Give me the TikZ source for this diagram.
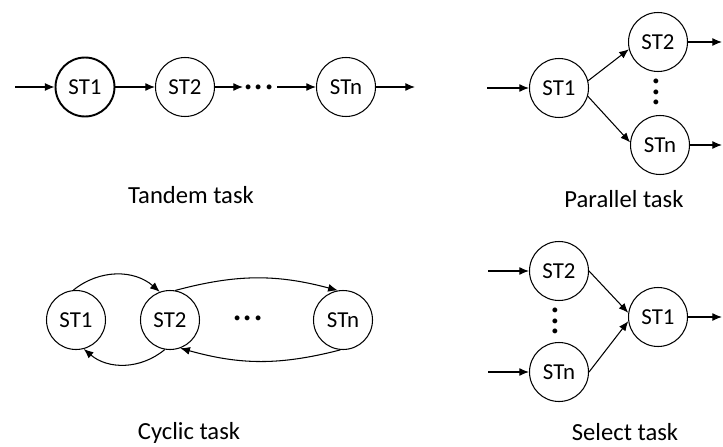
\documentclass[tikz,border=0pt]{standalone}
\usepackage{amsmath}
\usepackage{fontspec}
\setmainfont{Carlito}
\usetikzlibrary{arrows.meta, positioning}

\begin{document}
\begin{tikzpicture}[x=0.02cm, y=-0.02cm]
    % Setup the style for the states
        \tikzset{node style/.style={circle, draw,
                                    minimum size=1.18cm,
                                    inner sep=0pt,
                                    line width=0.6pt,
                                    font=\fontsize{13}{15}\selectfont},
                 dots style/.style={inner sep=0pt,
                                    font=\fontsize{23}{23}\selectfont},
                 label style/.style={anchor=base,
                                    font=\fontsize{14}{17}\selectfont}}
        \useasboundingbox (0, 0) rectangle (723, 446);
        % Tandem task
        \node[node style, line width=1.1pt] at (85, 87) (tand1) {ST1};
        \node[node style] at (185, 87)     (tand2) {ST2};
        \node[node style] at (346, 87)     (tandn) {STn};
        \node[dots style] at (259, 87)     (tanddots) {...};
        \coordinate (tandin) at (15, 87);
        \coordinate (tandout) at (415, 87);
        \coordinate (tanda) at (243, 87);
        \coordinate (tandb) at (277, 87);
        \node[label style] at (191, 203)   (tandlabel) {Tandem task};
        % Parallel task
        \node[node style] at (559, 88)     (par1) {ST1};
        \node[node style] at (658, 42)     (par2) {ST2};
        \node[node style] at (660, 145)    (parn) {STn};
        \node[dots style, rotate=90] at (656, 92) (pardots) {...};
        \coordinate (parin) at (487, 88);
        \coordinate (parout2) at (722, 42);
        \coordinate (paroutn) at (722, 145);
        \node[label style] at (624, 207)   (parlabel) {Parallel task};
        % Cyclic task
        \node[node style] at (76, 320)     (cyc1) {ST1};
        \node[node style] at (170, 320)    (cyc2) {ST2};
        \node[node style] at (343, 320)    (cycn) {STn};
        \node[dots style] at (248, 318)    (cycdots) {...};
        \node[label style] at (189, 439)   (cyclabel) {Cyclic task};
        % Select task
        \node[node style] at (559, 271)    (sel2) {ST2};
        \node[node style] at (559, 372)    (seln) {STn};
        \node[node style] at (658, 317)    (sel1) {ST1};
        \node[dots style, rotate=90] at (555, 321) (seldots) {...};
        \coordinate (selin2) at (488, 271);
        \coordinate (selinn) at (488, 372);
        \coordinate (selout) at (722, 317);
        \node[label style] at (625, 440)   (sellabel) {Select task};
        % Connect the states with arrows
        \path[->,
              line width=0.6pt,
              >={Latex[length=5.5pt, width=4.5pt]}]
        (tandin) edge (tand1)
        (tand1) edge (tand2)
        (tand2) edge (tanda)
        (tandb) edge (tandn)
        (tandn) edge (tandout)
        (parin) edge (par1)
        (par1.14) edge (par2.194)
        (par1.-16) edge (parn.175)
        (par2) edge (parout2)
        (parn) edge (paroutn)
        (cyc1.95) edge[bend left = 40] (cyc2.110)
        (cyc2.80) edge[bend left = 15] (cycn.100)
        (cyc2.260) edge[bend left = 40] (cyc1.285)
        (cycn.265) edge[bend left = 15] (cyc2.290)
        (selin2) edge (sel2)
        (selinn) edge (seln)
        (sel2.east) edge (sel1.172)
        (seln.east) edge (sel1.188)
        (sel1) edge (selout);
\end{tikzpicture}
\end{document}
